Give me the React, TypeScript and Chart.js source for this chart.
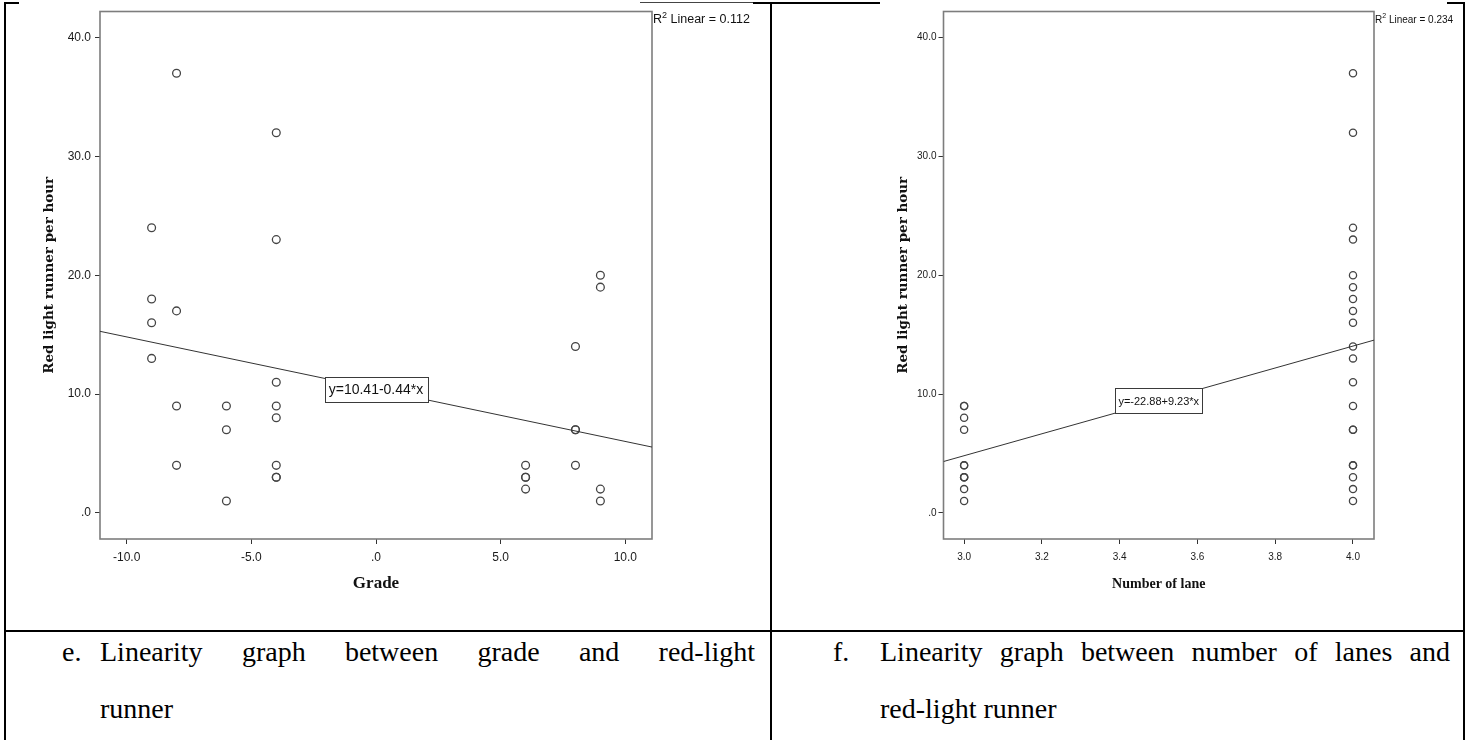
import React, { useEffect, useRef } from 'react';
import { Chart, registerables } from 'chart.js';

Chart.register(...registerables);

// ---------- data ----------
const gradeX = [-9, -9, -9, -9, -8, -8, -8, -8, -6, -6, -6, -4, -4, -4, -4, -4, -4, -4, -4, 6, 6, 6, 6, 8, 8, 8, 8, 9, 9, 9, 9];
const gradeY = [24, 18, 16, 13, 37, 17, 9, 4, 9, 7, 1, 32, 23, 11, 9, 8, 4, 3, 3, 4, 3, 3, 2, 14, 7, 7, 4, 20, 19, 2, 1];

const lanesX = [3, 3, 3, 3, 3, 3, 3, 3, 3, 3, 3, 4, 4, 4, 4, 4, 4, 4, 4, 4, 4, 4, 4, 4, 4, 4, 4, 4, 4, 4, 4];
const lanesY = [9, 9, 8, 7, 4, 4, 3, 3, 3, 2, 1, 37, 32, 24, 23, 20, 19, 18, 17, 16, 14, 13, 11, 9, 7, 7, 4, 4, 3, 2, 1];

const yTickValues = [0, 10, 20, 30, 40];
const yTickLabels = ['.0', '10.0', '20.0', '30.0', '40.0'];
const gradeTickValues = [-10, -5, 0, 5, 10];
const gradeTickLabels = ['-10.0', '-5.0', '.0', '5.0', '10.0'];
const laneTickValues = [3.0, 3.2, 3.4, 3.6, 3.8, 4.0];
const laneTickLabels = ['3.0', '3.2', '3.4', '3.6', '3.8', '4.0'];

const gradeFitIntercept = 10.41;
const gradeFitSlope = -0.44;
const gradeFitLabel = 'y=10.41-0.44*x';
const gradeR2 = '0.112';

const laneFitIntercept = -22.88;
const laneFitSlope = 9.23;
const laneFitLabel = 'y=-22.88+9.23*x';
const laneR2 = '0.234';

const yAxisTitle = 'Red light runner per hour';
const gradeAxisTitle = 'Grade';
const laneAxisTitle = 'Number of lane';

const captionE1 = 'Linearity graph between grade and red-light';
const captionE2 = 'runner';
const captionF1 = 'Linearity graph between number of lanes and';
const captionF2 = 'red-light runner';

// ---------- panel config ----------
interface PanelCfg {
  xs: number[];
  ys: number[];
  xMin: number;
  xMax: number;
  yMin: number;
  yMax: number;
  xTicks: number[];
  xTickLabels: string[];
  xTitle: string;
  xTitleSize: number;
  xTitlePad: number;
  intercept: number;
  slope: number;
  eqText: string;
  eqFont: number;
  eqPad: number;
  r2: string;
  r2Font: number;
  r2Y: number;
  yAxisWidth: number;
  rightPad: number;
  topPad: number;
  xAxisHeight: number;
  yTitlePad: number;
  tickFont: number;
  yTickPad: number;
  xTickPad: number;
  pointRadius: number;
}

function makePlugin(cfg: PanelCfg) {
  return {
    id: 'spssDecor',
    beforeDatasetsDraw(chart: any) {
      const { ctx, chartArea } = chart;
      ctx.save();
      ctx.strokeStyle = '#7d7d7d';
      ctx.lineWidth = 1.6;
      ctx.strokeRect(chartArea.left, chartArea.top, chartArea.right - chartArea.left, chartArea.bottom - chartArea.top);
      ctx.restore();
    },
    afterDatasetsDraw(chart: any) {
      const { ctx, chartArea } = chart;
      const xs = chart.scales.x;
      const ys = chart.scales.y;
      const mid = (cfg.xMin + cfg.xMax) / 2;
      const cx = xs.getPixelForValue(mid);
      const cy = ys.getPixelForValue(cfg.intercept + cfg.slope * mid);
      ctx.save();
      ctx.font = `${cfg.eqFont}px "Liberation Sans", Arial, sans-serif`;
      const w = Math.round(ctx.measureText(cfg.eqText).width + 2 * cfg.eqPad);
      const h = 25;
      const bx = Math.round(cx - w / 2) + 0.5;
      const by = Math.round(cy - h / 2) + 0.5;
      ctx.fillStyle = '#ffffff';
      ctx.fillRect(bx, by, w, h);
      ctx.strokeStyle = '#3a3a3a';
      ctx.lineWidth = 1;
      ctx.strokeRect(bx, by, w, h);
      ctx.fillStyle = '#111';
      ctx.textAlign = 'center';
      ctx.textBaseline = 'middle';
      ctx.fillText(cfg.eqText, cx, cy + 1);

      // R squared label
      let x = chartArea.right + 1;
      const y = cfg.r2Y;
      const main = `${cfg.r2Font}px "Liberation Sans", Arial, sans-serif`;
      const sup = `${Math.round(cfg.r2Font * 0.7)}px "Liberation Sans", Arial, sans-serif`;
      ctx.textAlign = 'left';
      ctx.font = main;
      ctx.fillText('R', x, y);
      x += ctx.measureText('R').width;
      ctx.font = sup;
      ctx.fillText('2', x, y - cfg.r2Font * 0.35);
      x += ctx.measureText('2').width;
      ctx.font = main;
      ctx.fillText(' Linear = ' + cfg.r2, x, y);
      ctx.restore();
    },
  };
}

function Panel({ cfg, left, top, width, height }: { cfg: PanelCfg; left: number; top: number; width: number; height: number }) {
  const ref = useRef<HTMLCanvasElement>(null);
  useEffect(() => {
    if (!ref.current) return;
    const points = cfg.xs.map((x, i) => ({ x, y: cfg.ys[i] }));
    const fitLine = [
      { x: cfg.xMin, y: cfg.intercept + cfg.slope * cfg.xMin },
      { x: cfg.xMax, y: cfg.intercept + cfg.slope * cfg.xMax },
    ];
    const tickFont = { family: '"Liberation Sans", Arial, sans-serif', size: cfg.tickFont };
    const chart = new Chart(ref.current, {
      type: 'scatter',
      data: {
        datasets: [
          {
            type: 'line',
            data: fitLine,
            borderColor: '#333333',
            borderWidth: 1,
            pointRadius: 0,
            fill: false,
          } as any,
          {
            data: points,
            pointRadius: cfg.pointRadius,
            pointBorderWidth: 1.3,
            pointBackgroundColor: 'rgba(255,255,255,0)',
            pointBorderColor: '#444444',
            pointStyle: 'circle',
          },
        ],
      },
      options: {
        animation: false,
        responsive: false,
        events: [],
        layout: { padding: { left: 0, right: cfg.rightPad, top: cfg.topPad, bottom: 0 } },
        plugins: { legend: { display: false }, tooltip: { enabled: false } },
        scales: {
          x: {
            type: 'linear',
            position: 'bottom',
            min: cfg.xMin,
            max: cfg.xMax,
            afterBuildTicks: (s: any) => {
              s.ticks = cfg.xTicks.map((v) => ({ value: v }));
            },
            afterFit: (s: any) => {
              s.height = cfg.xAxisHeight;
            },
            ticks: {
              autoSkip: false,
              maxRotation: 0,
              padding: cfg.xTickPad,
              color: '#1a1a1a',
              font: tickFont,
              callback: (v: any) => {
                const i = cfg.xTicks.indexOf(Number(v));
                return i >= 0 ? cfg.xTickLabels[i] : '';
              },
            },
            grid: { display: true, drawOnChartArea: false, drawTicks: true, tickLength: 5, color: '#333', lineWidth: 1 },
            border: { display: false },
            title: {
              display: true,
              text: cfg.xTitle,
              color: '#111',
              font: { family: '"Liberation Serif", "Times New Roman", serif', size: cfg.xTitleSize, weight: 'bold' },
              padding: { top: 0, bottom: cfg.xTitlePad },
            },
          },
          y: {
            type: 'linear',
            position: 'left',
            min: cfg.yMin,
            max: cfg.yMax,
            afterBuildTicks: (s: any) => {
              s.ticks = yTickValues.map((v) => ({ value: v }));
            },
            afterFit: (s: any) => {
              s.width = cfg.yAxisWidth;
            },
            ticks: {
              autoSkip: false,
              padding: cfg.yTickPad,
              color: '#1a1a1a',
              font: tickFont,
              callback: (v: any) => {
                const i = yTickValues.indexOf(Number(v));
                return i >= 0 ? yTickLabels[i] : '';
              },
            },
            grid: { display: true, drawOnChartArea: false, drawTicks: true, tickLength: 5, color: '#333', lineWidth: 1 },
            border: { display: false },
            title: {
              display: true,
              text: yAxisTitle,
              color: '#111',
              font: { family: '"DejaVu Serif", serif', size: 13.5, weight: 'bold' },
              padding: { top: cfg.yTitlePad, bottom: 0 },
            },
          },
        },
      },
      plugins: [makePlugin(cfg) as any],
    } as any);
    return () => chart.destroy();
  }, []);
  return (
    <canvas
      ref={ref}
      width={width}
      height={height}
      style={{ position: 'absolute', left, top, width, height }}
    />
  );
}

const gradeCfg: PanelCfg = {
  xs: gradeX,
  ys: gradeY,
  xMin: -11.07,
  xMax: 11.07,
  yMin: -2.2,
  yMax: 42.2,
  xTicks: gradeTickValues,
  xTickLabels: gradeTickLabels,
  xTitle: gradeAxisTitle,
  xTitleSize: 17,
  xTitlePad: 30.8,
  intercept: gradeFitIntercept,
  slope: gradeFitSlope,
  eqText: gradeFitLabel,
  eqFont: 14,
  eqPad: 4,
  r2: gradeR2,
  r2Font: 12.5,
  r2Y: 20,
  yAxisWidth: 80,
  rightPad: 103,
  topPad: 11.5,
  xAxisHeight: 86,
  yTitlePad: 21,
  tickFont: 12,
  yTickPad: 4,
  xTickPad: 6,
  pointRadius: 3.9,
};

const laneCfg: PanelCfg = {
  xs: lanesX,
  ys: lanesY,
  xMin: 2.947,
  xMax: 4.054,
  yMin: -2.2,
  yMax: 42.2,
  xTicks: laneTickValues,
  xTickLabels: laneTickLabels,
  xTitle: laneAxisTitle,
  xTitleSize: 14,
  xTitlePad: 32.6,
  intercept: laneFitIntercept,
  slope: laneFitSlope,
  eqText: laneFitLabel,
  eqFont: 11,
  eqPad: 3,
  r2: laneR2,
  r2Font: 10,
  r2Y: 20,
  yAxisWidth: 63.5,
  rightPad: 91,
  topPad: 11.5,
  xAxisHeight: 86,
  yTitlePad: 15.5,
  tickFont: 10,
  yTickPad: 2,
  xTickPad: 7.5,
  pointRadius: 3.6,
};

const capFont: React.CSSProperties = {
  position: 'absolute',
  fontFamily: '"Liberation Serif", "Times New Roman", serif',
  fontSize: 28,
  lineHeight: '31px',
  color: '#000',
  whiteSpace: 'nowrap',
};

function Line({ x, y, w, h, c = '#000' }: { x: number; y: number; w: number; h: number; c?: string }) {
  return <div style={{ position: 'absolute', left: x, top: y, width: w, height: h, background: c }} />;
}

export default function App() {
  return (
    <div style={{ position: 'absolute', left: 0, top: 0, width: 1470, height: 740, background: '#fff', overflow: 'hidden' }}>
      {/* table borders */}
      <Line x={4} y={2} w={2} h={738} />
      <Line x={770} y={2} w={2} h={738} />
      <Line x={1463} y={2} w={2} h={738} />
      <Line x={4} y={630} w={1461} h={2} />
      <Line x={4} y={2} w={15} h={2} />
      <Line x={640} y={2} w={113} h={1} c="#444" />
      <Line x={753} y={2} w={127} h={2} />
      <Line x={1447} y={2} w={18} h={2} />

      <Panel cfg={gradeCfg} left={20} top={0} width={735} height={625} />
      <Panel cfg={laneCfg} left={880} top={0} width={585} height={625} />

      {/* captions */}
      <div style={{ ...capFont, left: 62, top: 636 }}>e.</div>
      <div style={{ ...capFont, left: 100, top: 636, width: 655, textAlign: 'justify', textAlignLast: 'justify', whiteSpace: 'normal' }}>{captionE1}</div>
      <div style={{ ...capFont, left: 100, top: 693 }}>{captionE2}</div>
      <div style={{ ...capFont, left: 833, top: 636 }}>f.</div>
      <div style={{ ...capFont, left: 880, top: 636, width: 570, textAlign: 'justify', textAlignLast: 'justify', whiteSpace: 'normal' }}>{captionF1}</div>
      <div style={{ ...capFont, left: 880, top: 693 }}>{captionF2}</div>
    </div>
  );
}
